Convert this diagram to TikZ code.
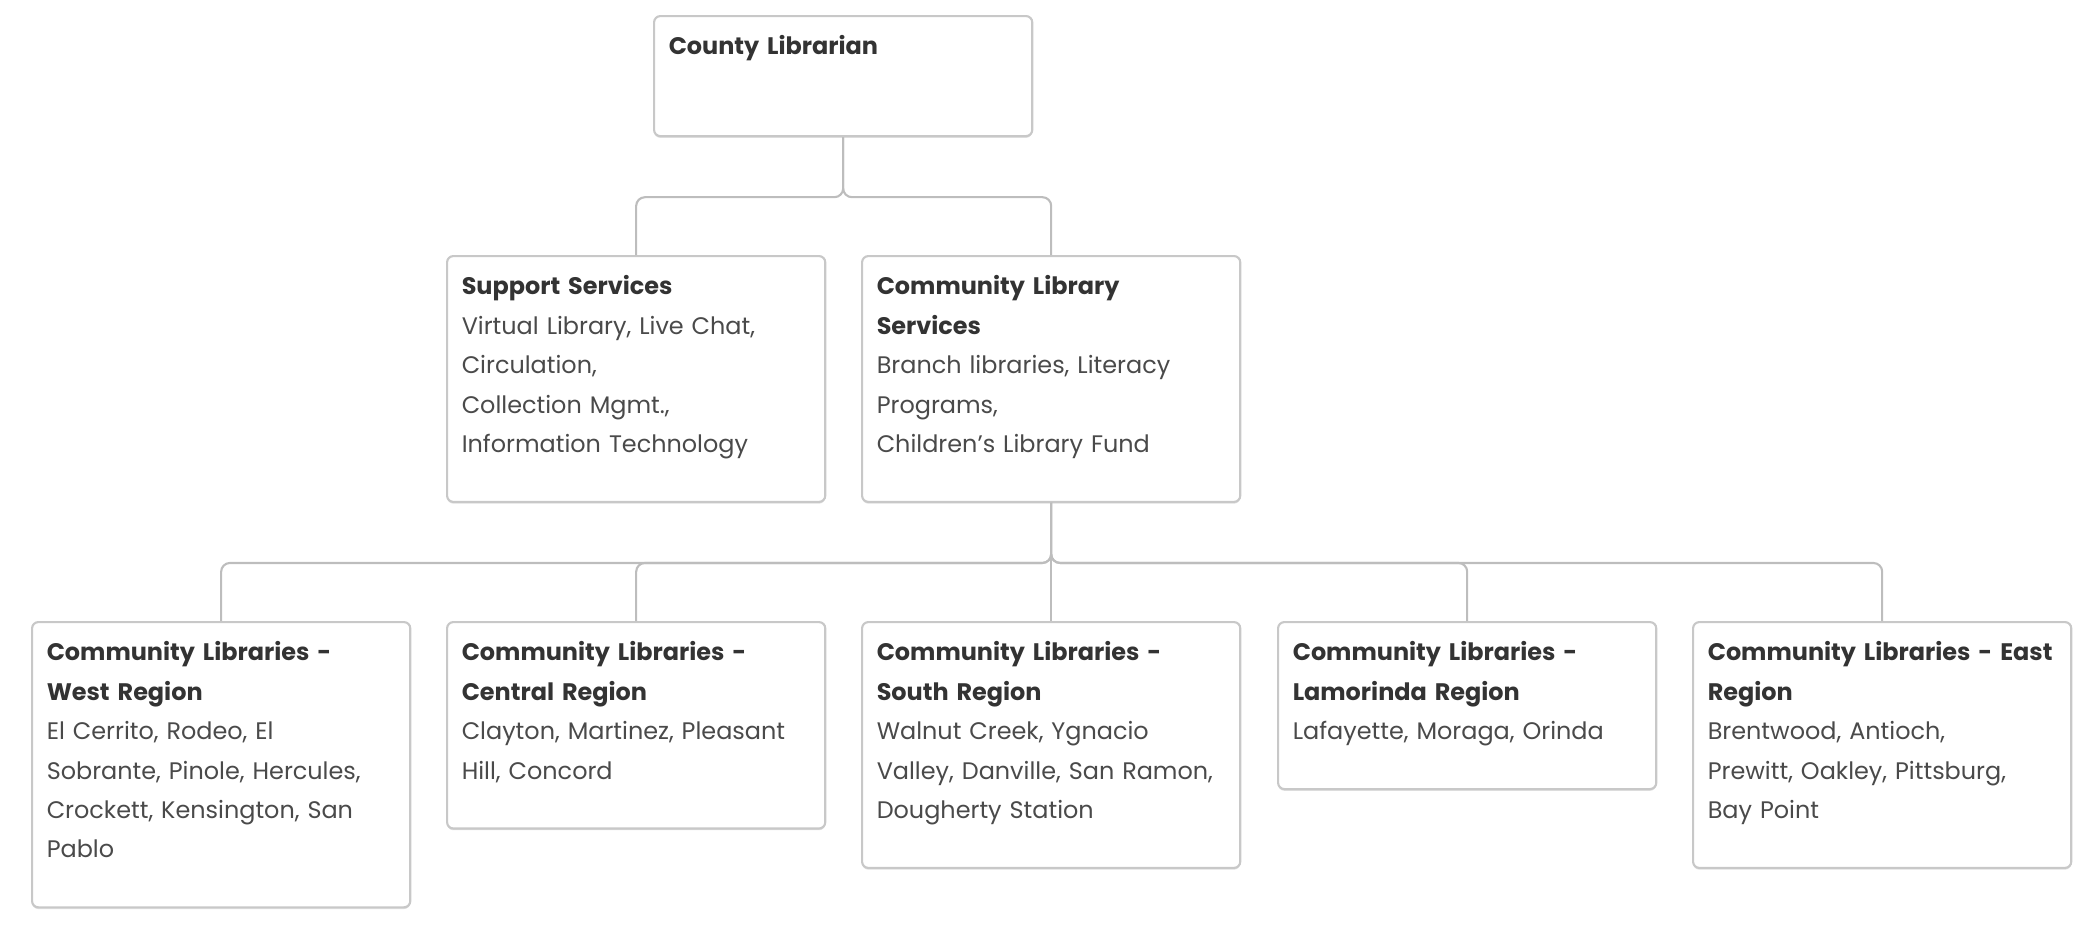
\documentclass[tikz,border=0pt]{standalone}
\usepackage{fontspec}
\setmainfont{Poppins}
\usepackage{tikz}
\usetikzlibrary{shadows}

\definecolor{boxline}{HTML}{C8C8C8}
\definecolor{linkline}{HTML}{BDBDBD}
\definecolor{titletext}{HTML}{333333}
\definecolor{bodytext}{HTML}{4A4A4A}

\newcommand{\boxtop}{\rule{0pt}{0.387cm}}
\newcommand{\boxbot}{\rule[-0.494cm]{0pt}{0.494cm}}
\newcommand{\orgtitle}[1]{{\bfseries\color{titletext}#1}}

\tikzset{
	orgbox/.style={draw=boxline, line width=0.6pt, fill=white, rounded corners=1.8pt,
		anchor=north west, inner xsep=0.147cm, inner ysep=0pt,
		text width=3.486cm, align=left, text=bodytext,
		font=\fontsize{6.8pt}{0.394cm}\selectfont,
		drop shadow={shadow xshift=0pt, shadow yshift=-0.5pt, opacity=0.25, fill=gray}},
	link/.style={draw=linkline, line width=0.6pt, rounded corners=2.5pt}
}

\begin{document}
\begin{tikzpicture}[x=0.01cm, y=-0.01cm]
	\useasboundingbox (0,0) rectangle (2094,936);
	
	% top level
	\node[orgbox] (cl) at (653,15) {\boxtop\orgtitle{County Librarian}\rule[-0.813cm]{0pt}{0.813cm}};
	
	% second level
	\node[orgbox] (ss) at (446,255) {\boxtop\orgtitle{Support Services}\\
		Virtual Library, Live Chat,\\ Circulation,\\ Collection Mgmt.,\\ Information Technology\boxbot};
	\node[orgbox] (cls) at (861,255) {\boxtop\orgtitle{Community Library}\\ \orgtitle{Services}\\
		Branch libraries, Literacy\\ Programs,\\ Children's Library Fund\boxbot};
	
	% regions
	\node[orgbox] (west) at (31,621) {\boxtop\orgtitle{Community Libraries -}\\ \orgtitle{West Region}\\
		El Cerrito, Rodeo, El\\ Sobrante, Pinole, Hercules,\\ Crockett, Kensington, San\\ Pablo\boxbot};
	\node[orgbox] (central) at (446,621) {\boxtop\orgtitle{Community Libraries -}\\ \orgtitle{Central Region}\\
		Clayton, Martinez, Pleasant\\ Hill, Concord\boxbot};
	\node[orgbox] (south) at (861,621) {\boxtop\orgtitle{Community Libraries -}\\ \orgtitle{South Region}\\
		Walnut Creek, Ygnacio\\ Valley, Danville, San Ramon,\\ Dougherty Station\boxbot};
	\node[orgbox] (lamo) at (1277,621) {\boxtop\orgtitle{Community Libraries -}\\ \orgtitle{Lamorinda Region}\\
		Lafayette, Moraga, Orinda\boxbot};
	\node[orgbox] (east) at (1692,621) {\boxtop\orgtitle{Community Libraries - East}\\ \orgtitle{Region}\\
		Brentwood, Antioch,\\ Prewitt, Oakley, Pittsburg,\\ Bay Point\boxbot};
	
	% connectors
	\draw[link] (cl.south) -- ++(0,60) -| (ss.north);
	\draw[link] (cl.south) -- ++(0,60) -| (cls.north);
	\foreach \child in {west,central,south,lamo,east}
		\draw[link] (cls.south) -- ++(0,60) -| (\child.north);
\end{tikzpicture}
\end{document}
